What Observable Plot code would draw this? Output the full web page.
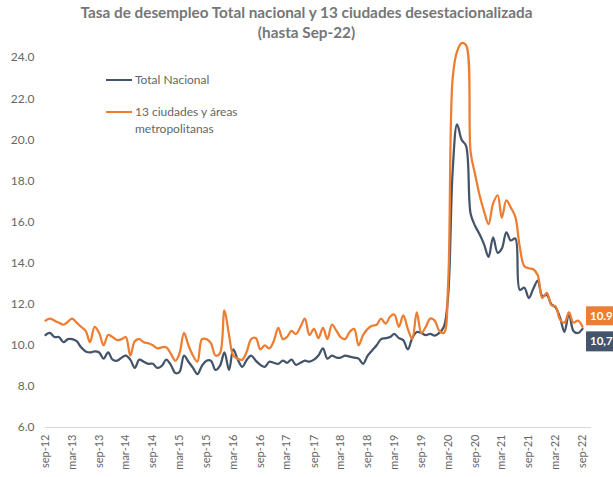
<!DOCTYPE html>
<html>
<head>
<meta charset="utf-8">
<script src="https://cdn.jsdelivr.net/npm/d3@7"></script>
<script src="https://cdn.jsdelivr.net/npm/@observablehq/plot@0.6"></script>
<style>
  html, body { margin: 0; padding: 0; background: #fff; }
  #wrap { position: relative; width: 613px; height: 477px; font-family: Lato, "Open Sans", sans-serif; }
  #title { position: absolute; left: 0; top: 3px; width: 613px; text-align: center; font-weight: bold; font-size: 15.3px; line-height: 19.5px; color: #767676; }
  .leg { position: absolute; font-size: 12px; color: #666; line-height: 17px; }
  .sw { position: absolute; height: 2px; width: 26px; }
</style>
</head>
<body>
<div id="wrap">
  <div id="title">Tasa de desempleo Total nacional y 13 ciudades desestacionalizada<br>(hasta Sep-22)</div>
</div>
<script>
// ---- data ----
const seriesNames = ["Total Nacional", "13 ciudades y áreas metropolitanas"];
const seriesColors = ["#44546A", "#ED7D31"];
const endLabels = ["10,7", "10.9"];

const totalNacional = [
  10.5, 10.6, 10.4, 10.4, 10.15, 10.3, 10.3, 10.2, 9.9, 9.7,
  9.65, 9.7, 9.65, 9.35, 9.65, 9.3, 9.25, 9.4, 9.5, 9.3,
  8.9, 9.3, 9.2, 9.1, 9.1, 8.9, 9.0, 9.3, 9.05, 8.65,
  8.7, 9.5, 9.2, 8.9, 8.6, 9.0, 9.25, 9.25, 8.8, 9.0,
  9.65, 8.8, 9.8, 9.3, 8.95, 9.3, 9.5, 9.25, 9.05, 8.95,
  9.2, 9.15, 9.1, 9.25, 9.15, 9.3, 9.05, 9.15, 9.25, 9.2,
  9.3, 9.5, 9.85, 9.35, 9.5, 9.4, 9.4, 9.5, 9.45, 9.4,
  9.35, 9.1, 9.5, 9.75, 10.0, 10.3, 10.35, 10.4, 10.55, 10.35,
  10.25, 9.8, 10.35, 10.65, 10.6, 10.5, 10.55, 10.47, 10.6, 10.9,
  12.4, 18.5, 20.75, 20.0, 19.7, 16.4, 15.8, 15.4, 14.9, 14.3,
  15.25, 14.5, 14.7, 15.5, 15.1, 15.2, 12.7, 12.8, 12.3, 12.75,
  13.15, 12.4, 12.45, 12.0, 11.85, 11.35, 10.65, 11.55, 10.7, 10.6,
  10.8
];
const ciudades13 = [
  11.2, 11.3, 11.2, 11.1, 11.0, 11.15, 11.3, 11.1, 10.9, 10.7,
  10.15, 10.9, 10.6, 10.0, 10.5, 10.4, 10.25, 10.3, 10.4, 9.5,
  10.2, 10.3, 10.15, 10.1, 10.0, 9.85, 9.9, 9.9, 9.6, 9.25,
  9.6, 10.6, 10.0, 9.5, 9.2, 10.3, 10.3, 10.1, 9.5, 9.6,
  11.7, 10.5, 9.5, 9.35, 9.3, 9.7, 10.3, 10.35, 9.8, 10.0,
  9.85, 10.2, 10.85, 10.3, 10.4, 10.7, 10.55, 10.9, 11.3, 10.5,
  10.8, 10.35, 10.85, 10.3, 11.0, 10.7, 10.4, 10.3, 10.65, 10.8,
  10.0, 10.5, 10.8, 10.95, 11.0, 11.3, 11.05, 11.4, 11.5, 10.9,
  11.45, 10.8, 10.3, 11.6, 10.6, 10.9, 11.3, 11.2, 10.7, 10.6,
  13.0, 23.0, 24.3, 24.7, 24.6, 19.4, 18.3, 17.3, 16.5, 15.9,
  16.9, 17.3, 16.2, 17.05, 16.7, 16.25, 14.8, 13.85, 13.75, 13.7,
  13.4, 12.3, 12.55, 11.95, 11.9, 11.25, 11.1, 11.6, 11.1, 11.2,
  10.9
];
const xTickLabels = ["sep-12","mar-13","sep-13","mar-14","sep-14","mar-15","sep-15","mar-16","sep-16","mar-17",
  "sep-17","mar-18","sep-18","mar-19","sep-19","mar-20","sep-20","mar-21","sep-21","mar-22","sep-22"];
const yTicks = [6, 8, 10, 12, 14, 16, 18, 20, 22, 24];

// ---- build ----
const start = new Date(Date.UTC(2012, 8, 1));
const months = totalNacional.map((_, i) => d3.utcMonth.offset(start, i));
const rows = [];
[totalNacional, ciudades13].forEach((arr, s) => arr.forEach((v, i) => rows.push({date: months[i], v, s: seriesNames[s]})));
const tickDates = xTickLabels.map((_, k) => months[k * 6]);
const labelOf = new Map(tickDates.map((d, k) => [+d, xTickLabels[k]]));

const chart = Plot.plot({
  width: 613, height: 477,
  marginLeft: 45, marginRight: 22, marginTop: 36.5, marginBottom: 50,
  style: {fontFamily: "Lato, 'Open Sans', sans-serif", background: "transparent", color: "#666"},
  x: {type: "utc", label: null, domain: [months[0], d3.utcMonth.offset(months[months.length - 1], 2)]},
  y: {label: null, domain: [6, 25]},
  color: {domain: seriesNames, range: seriesColors},
  marks: [
    Plot.ruleY([6], {stroke: "#d9d9d9", strokeWidth: 1}),
    Plot.axisY(yTicks, {label: null, tickSize: 0, tickPadding: 11, tickFormat: d3.format(".1f"), fontSize: 12, fill: "#666"}),
    Plot.axisX(tickDates, {label: null, tickSize: 0, tickPadding: 7, tickRotate: -90, tickFormat: d => labelOf.get(+d), fontSize: 11, fill: "#666"}),
    Plot.line(rows, {x: "date", y: "v", z: "s", stroke: "s", strokeWidth: 2.25, curve: "catmull-rom"})
  ]
});
const wrap = document.getElementById("wrap");
chart.style.position = "absolute";
chart.style.left = "0px";
chart.style.top = "0px";
wrap.insertBefore(chart, wrap.firstChild);

// ---- end labels (positioned from the scales) ----
const sx = chart.scale("x"), sy = chart.scale("y");
const svg = d3.select(chart);
const lastI = months.length - 1;
const x0 = sx.apply(months[lastI]);
[
  {val: ciudades13[lastI], color: seriesColors[1], text: endLabels[1], off: -20, h: 19},
  {val: totalNacional[lastI], color: seriesColors[0], text: endLabels[0], off: 3, h: 20}
].forEach(o => {
  const yTop = sy.apply(o.val) + o.off;
  const g = svg.append("g");
  g.append("rect").attr("x", x0 + 4).attr("y", yTop).attr("width", 40).attr("height", o.h).attr("fill", o.color);
  g.append("text").attr("x", x0 + 8).attr("y", yTop + o.h / 2 + 4).attr("fill", "#fff").attr("text-anchor", "start")
    .attr("font-weight", "bold").attr("font-size", 11.5).attr("font-family", "Lato, sans-serif").text(o.text);
});

// ---- legend ----
const legendPos = [{top: 71, lines: [seriesNames[0]]}, {top: 103, lines: ["13 ciudades y áreas", "metropolitanas"]}];
legendPos.forEach((p, s) => {
  const sw = document.createElement("div");
  sw.className = "sw";
  sw.style.left = "106px"; sw.style.top = (p.top + 7.5) + "px"; sw.style.background = seriesColors[s];
  wrap.appendChild(sw);
  const t = document.createElement("div");
  t.className = "leg";
  t.style.left = "135px"; t.style.top = p.top + "px";
  t.innerHTML = p.lines.join("<br>");
  wrap.appendChild(t);
});
</script>
</body>
</html>
